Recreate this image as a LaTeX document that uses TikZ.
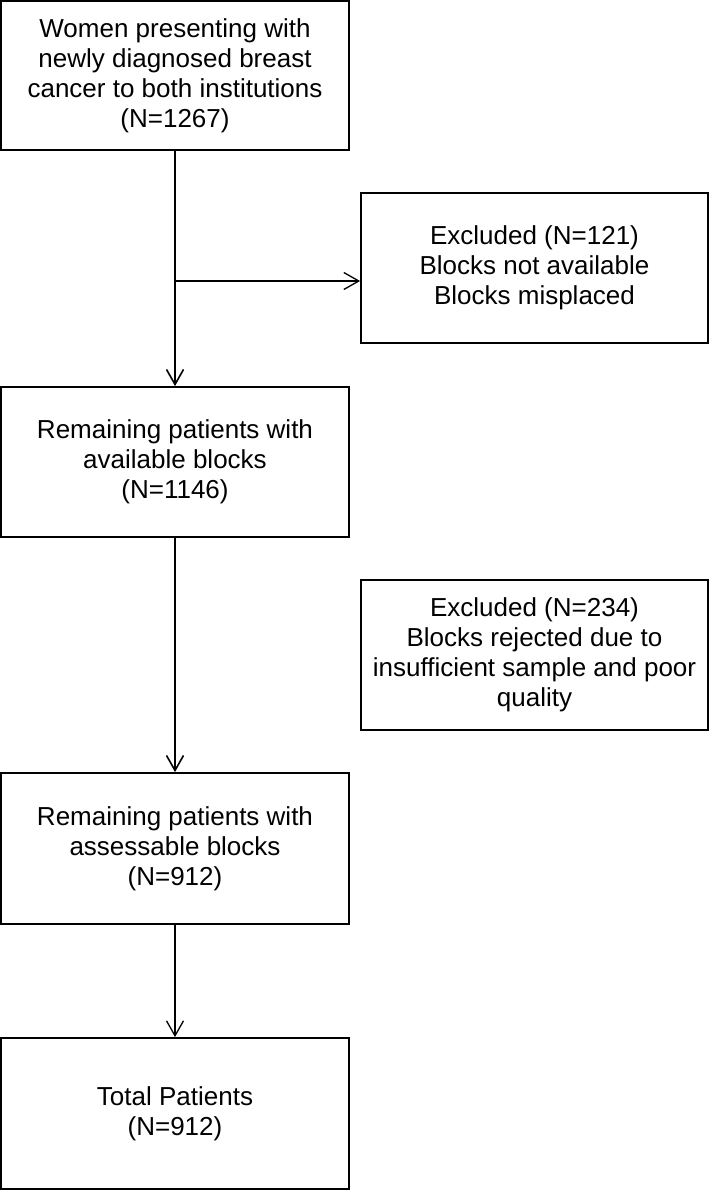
\documentclass[tikz,border=0pt]{standalone}
\usepackage{fontspec}
\setmainfont{Liberation Sans}
\usetikzlibrary{arrows.meta}
\begin{document}
\begin{tikzpicture}[x=1pt,y=-1pt,
  box/.style={draw=black, line width=1.8pt, rectangle, align=center, inner sep=0pt,
    font=\fontsize{26}{30}\selectfont, text=black},
  mainbox/.style={box, minimum width=348pt},
  exbox/.style={box, minimum width=347pt, minimum height=150pt},
  conn/.style={draw=black, line width=1.8pt, -{Straight Barb[length=15pt,width=17pt,line width=1.6pt]}},
  thinconn/.style={draw=black, line width=1.3pt, -{Straight Barb[length=15pt,width=17pt,line width=1.3pt]}}
]
\useasboundingbox (0,0) rectangle (710,1190);
\node[mainbox, minimum height=149pt] (b1) at (175,75.5) {Women presenting with\\newly diagnosed breast\\cancer to both institutions\\(N=1267)};
\node[exbox] (e1) at (534.5,268) {Excluded (N=121)\\Blocks not available\\Blocks misplaced};
\node[mainbox, minimum height=150pt] (b2) at (175,462) {Remaining patients with\\available blocks\\(N=1146)};
\node[exbox] (e2) at (534.5,655) {Excluded (N=234)\\Blocks rejected due to\\insufficient sample and poor\\quality};
\node[mainbox, minimum height=151pt] (b3) at (175,848.5) {Remaining patients with\\assessable blocks\\(N=912)};
\node[mainbox, minimum height=151pt] (b4) at (175,1113.5) {Total Patients\\(N=912)};
\coordinate (br) at (175,281);
\draw[conn] (b1.south) -- (b2.north);
\draw[thinconn] (br) -- (e1.west |- br);
\draw[conn] (b2.south) -- (b3.north);
\draw[thinconn] (b3.south) -- (b4.north);
\end{tikzpicture}
\end{document}
